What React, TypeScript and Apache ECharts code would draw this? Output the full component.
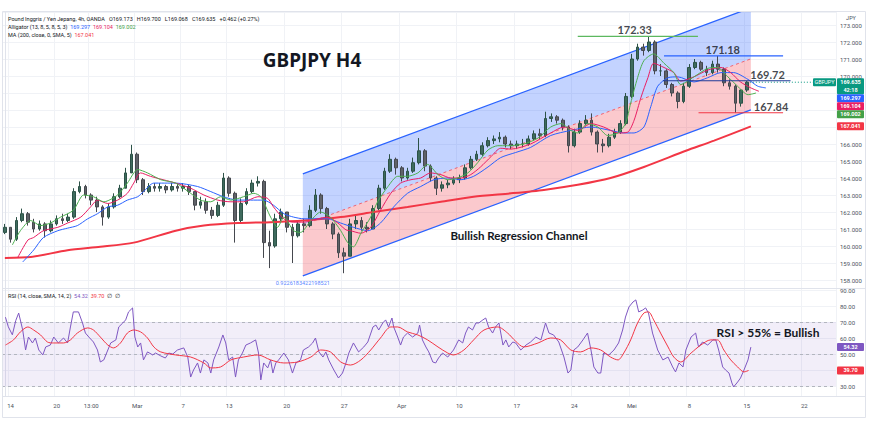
import React, { useEffect, useRef } from 'react';
import * as echarts from 'echarts';

const N_CAT = 145;
const X_TICKS: [number, string][] = [
  [1, '14'], [9, '20'], [15, '13:00'], [23, 'Mar'], [31, '7'], [39, '13'], [49, '20'], [59, '27'],
  [69, 'Apr'], [79, '10'], [89, '17'], [99, '24'], [109, 'Mei'], [119, '8'], [129, '15'], [139, '22'],
];

const OPEN_FIRST = 160.8;
const CLOSE = [
  161.1, 160.4, 161.5, 161.9, 161.4, 161.0, 161.3, 160.9, 161.3, 161.6,
  161.5, 161.7, 163.2, 163.5, 163.0, 162.7, 162.3, 161.7, 162.3, 162.9,
  163.4, 164.3, 165.4, 163.9, 163.2, 163.5, 163.4, 163.5, 163.3, 163.5,
  163.4, 163.5, 163.2, 162.4, 162.6, 162.1, 161.8, 162.4, 164.0, 163.1,
  161.5, 162.5, 163.2, 163.7, 163.8, 160.2, 160.0, 161.6, 162.0, 161.1,
  160.6, 161.3, 161.2, 162.1, 163.0, 162.2, 161.3, 160.7, 159.6, 159.4,
  161.3, 161.5, 161.1, 161.0, 162.2, 163.4, 164.4, 165.1, 164.6, 164.0,
  164.4, 164.9, 165.6, 164.7, 164.0, 163.4, 163.6, 163.7, 163.9, 164.0,
  164.6, 165.1, 165.4, 165.9, 166.2, 166.3, 166.4, 166.0, 165.9, 166.0,
  166.0, 166.3, 166.6, 166.5, 167.5, 167.6, 167.4, 167.0, 165.9, 166.7,
  167.2, 167.4, 166.7, 166.0, 165.9, 166.4, 166.7, 167.2, 168.8, 171.0,
  171.7, 171.5, 172.0, 170.3, 170.3, 169.5, 169.0, 168.5, 169.4, 170.5,
  170.8, 170.4, 170.2, 170.7, 170.4, 169.6, 169.4, 168.4, 169.173, 169.635,
];
const HIGH = [
  161.3, 161.1, 161.7, 162.2, 162.0, 161.6, 161.5, 161.4, 161.5, 161.8,
  161.9, 161.9, 163.4, 163.8, 163.6, 163.1, 162.9, 162.4, 162.5, 163.1,
  163.6, 164.6, 165.95, 165.5, 164.0, 163.7, 163.7, 163.7, 163.6, 163.7,
  163.7, 163.7, 163.6, 163.2, 162.9, 162.8, 162.3, 162.6, 164.3, 164.1,
  163.2, 162.8, 163.4, 163.9, 164.1, 163.9, 160.9, 161.9, 162.2, 162.0,
  161.3, 161.5, 161.6, 162.4, 163.35, 163.1, 162.3, 161.4, 160.8, 159.9,
  161.6, 161.8, 161.7, 161.4, 162.4, 163.6, 164.6, 165.4, 165.2, 164.7,
  164.6, 165.2, 166.35, 165.7, 164.8, 164.1, 163.8, 163.9, 164.1, 164.2,
  164.8, 165.3, 165.6, 166.1, 166.4, 166.5, 166.7, 166.5, 166.2, 166.2,
  166.3, 166.5, 166.8, 166.9, 167.9, 167.8, 167.7, 167.5, 167.1, 166.9,
  167.4, 167.7, 167.8, 166.8, 166.3, 166.6, 166.9, 167.4, 169.0, 171.3,
  171.9, 171.9, 172.33, 172.1, 170.7, 170.4, 169.6, 169.1, 169.6, 170.7,
  171.0, 170.9, 170.6, 170.9, 171.18, 170.5, 169.8, 169.5, 169.2, 169.7,
];
const LOW = [
  160.7, 160.2, 160.3, 161.4, 161.2, 160.8, 160.9, 160.5, 160.8, 161.2,
  161.3, 161.4, 161.6, 163.1, 162.8, 162.4, 162.0, 161.2, 161.6, 162.2,
  162.8, 163.4, 164.3, 163.7, 163.0, 163.1, 163.2, 163.2, 163.1, 163.2,
  163.2, 163.2, 163.0, 162.1, 162.2, 161.9, 161.6, 161.7, 162.3, 162.9,
  160.2, 161.3, 162.4, 163.1, 163.5, 159.3, 158.7, 159.9, 161.4, 160.8,
  159.0, 160.5, 160.8, 161.1, 162.0, 161.9, 161.0, 160.4, 159.3, 158.4,
  159.4, 161.0, 160.9, 160.8, 161.0, 162.1, 163.3, 164.3, 164.2, 163.8,
  163.9, 164.3, 164.8, 164.4, 163.8, 163.0, 163.2, 163.4, 163.6, 163.7,
  163.9, 164.5, 165.0, 165.3, 165.8, 166.0, 166.1, 165.8, 165.7, 165.7,
  165.8, 165.9, 166.2, 166.3, 166.4, 167.3, 167.2, 166.8, 165.5, 165.8,
  166.6, 167.1, 166.5, 165.5, 165.5, 165.8, 166.3, 166.6, 167.1, 168.7,
  170.9, 171.2, 171.4, 170.1, 170.0, 169.3, 168.8, 168.1, 168.4, 169.3,
  170.4, 170.3, 170.0, 170.1, 170.2, 169.4, 169.2, 167.84, 168.2, 169.068,
];

// indicator readings: [bar position, value]
const MA200: [number, number][] = [
  [0, 159.3], [4.5, 159.35], [10.9, 159.75], [16.6, 159.95], [22.4, 160.2], [29.7, 160.9],
  [34.6, 161.2], [40.5, 161.35], [46.2, 161.4], [52, 161.5], [58.4, 161.7], [64.1, 162.0],
  [70, 162.3], [75.8, 162.6], [81.5, 162.9], [88, 163.1], [93.7, 163.3], [99.6, 163.6],
  [105.3, 164.0], [111.1, 164.65], [118.4, 165.6], [123.3, 166.2], [129.7, 167.04],
];
const JAW: [number, number][] = [
  [3.1, 159.06], [5, 159.76], [6.7, 160.5], [9.2, 160.9], [10.9, 161.05], [12.6, 161.2], [14.4, 161.6],
  [16.1, 161.9], [17.9, 162.3], [19.6, 162.4], [21.3, 162.7], [23.1, 162.9], [24.1, 163.2], [25.9, 163.7],
  [29.7, 163.7], [33.5, 163.5], [35.8, 163.2], [38, 162.9], [40.5, 162.7], [42.7, 162.7], [45, 162.7],
  [46.7, 162.4], [48.5, 161.9], [50.2, 161.7], [52, 161.6], [54.4, 161.6], [56.1, 161.6], [58.4, 161.35],
  [60.6, 161.1], [63.1, 160.9], [65.3, 161.35], [67.6, 162.3], [70, 163.1], [72.3, 163.5], [74.6, 163.9],
  [77, 164.0], [79.3, 163.9], [81.5, 164.1], [84, 164.65], [86.2, 165.2], [88.8, 165.5], [91.4, 165.8],
  [94.9, 166.5], [98.4, 166.8], [101.9, 167.0], [105.3, 166.8], [107.6, 166.65], [109.4, 166.65],
  [111.1, 167.0], [112.3, 168.2], [113.5, 169.4], [115.3, 169.9], [117, 169.95], [119.8, 169.65],
  [122.2, 169.9], [124.5, 170.2], [126.7, 170.2], [129.2, 169.8], [130.9, 169.4], [132.3, 169.3],
];
const TEETH: [number, number][] = [
  [2.2, 159.3], [4, 160.35], [5, 160.5], [6.7, 160.9], [9.2, 161.1], [10.9, 161.35], [13.2, 161.7],
  [14.9, 162.3], [16.1, 162.7], [17.9, 162.5], [19.6, 162.7], [21.3, 163.1], [22.4, 163.7], [23.6, 164.3],
  [25.3, 164.1], [29.7, 163.7], [32.3, 163.4], [34.6, 163.0], [37, 162.7], [39.3, 162.6], [41.5, 162.6],
  [44, 162.9], [45.7, 162.8], [46.7, 162.3], [48.5, 161.6], [50.2, 161.4], [52, 161.4], [54.4, 161.6],
  [56.1, 161.7], [57.9, 161.35], [59.3, 160.95], [60.1, 160.9], [61.9, 160.75], [63.6, 161.1],
  [65.3, 162.1], [67.1, 163.1], [68.8, 163.7], [70.6, 163.9], [72.3, 164.0], [74, 164.3], [75.8, 164.2],
  [77.5, 164.0], [79.3, 164.0], [81, 164.2], [82.7, 164.65], [84.5, 165.25], [86.2, 165.75], [88, 165.7],
  [91.4, 166.0], [94.9, 166.65], [97.2, 167.0], [99.6, 166.8], [101.9, 167.2], [104.1, 167.0],
  [106.6, 166.65], [108.3, 166.7], [109.4, 167.4], [110.6, 168.75], [111.8, 169.9], [112.8, 170.75],
  [114.6, 170.5], [116.3, 170.2], [117.5, 169.7], [119.8, 169.95], [122.2, 170.35], [124.5, 170.5],
  [126.2, 170.2], [127.9, 169.65], [129.7, 169.3], [131.1, 169.1],
];
const LIPS: [number, number][] = [
  [1.3, 160.06], [2.7, 160.9], [4.5, 161.5], [6.2, 161.2], [7.9, 161.35], [9.7, 161.7], [11.9, 162.1],
  [13.7, 163.0], [15.4, 162.9], [17.2, 162.6], [19.6, 163.0], [21.3, 163.7], [23.1, 164.5], [24.8, 164.3],
  [27.1, 163.9], [29.7, 163.7], [32.3, 163.1], [34, 162.7], [35.8, 162.6], [37.5, 162.9], [39.3, 162.7],
  [41.5, 162.9], [43.3, 163.1], [44.5, 162.9], [46.2, 161.7], [47.4, 161.1], [48.5, 161.7], [50.2, 160.9],
  [51.4, 160.8], [53.2, 161.5], [54.9, 162.0], [56.6, 161.7], [58.4, 160.9], [59.6, 160.2], [60.6, 159.95],
  [61.9, 160.75], [63.6, 161.7], [64.8, 162.6], [66.6, 163.5], [68.3, 164.1], [70, 164.1], [71.8, 164.3],
  [73.5, 164.8], [75.3, 164.2], [77, 163.9], [78.7, 164.0], [80.5, 164.3], [82.2, 164.9], [84, 165.65],
  [85.7, 165.9], [87.4, 165.9], [90.2, 166.0], [92.7, 166.35], [94.9, 167.0], [96.7, 167.2], [98.4, 166.8],
  [99.6, 166.65], [101.3, 167.2], [103.1, 167.0], [104.8, 166.5], [106.6, 166.65], [107.9, 167.2],
  [108.8, 168.4], [110, 169.9], [111.1, 170.9], [112.8, 171.3], [114.6, 170.75], [116.3, 170.2],
  [117.5, 169.5], [119.8, 169.95], [122.2, 170.45], [123.9, 170.5], [125.7, 169.95], [127.4, 169.4],
  [129.2, 168.9], [130.6, 169.0],
];
const RSI: [number, number][] = [
  [0.1, 73], [0.6, 67], [1.3, 62], [1.9, 71], [2.4, 75.6], [3.1, 65], [3.6, 52.5], [4.1, 60.6], [4.8, 56.9],
  [5.3, 60], [5.9, 52.5], [6.6, 49.4], [7.1, 54.4], [7.9, 55.6], [8.5, 60.6], [9.3, 56.9], [10.2, 60],
  [10.9, 56.9], [11.4, 66.9], [11.9, 76.3], [12.8, 76.3], [13.5, 69.4], [14, 63.1], [14.6, 60.6], [15.4, 57.5],
  [16.1, 52.5], [16.6, 45], [17.2, 46.3], [17.9, 52.5], [18.4, 56.9], [19.3, 58.8], [19.8, 66.9], [20.5, 69.4],
  [21, 71.3], [21.5, 76.3], [22.2, 78.8], [22.6, 60.6], [23.1, 54.4], [23.6, 56.9], [24.1, 46.3], [24.8, 51.3],
  [25.7, 49.4], [26.2, 50.6], [27.1, 48.8], [27.9, 47.5], [28.5, 50.6], [29.2, 50], [30, 52.5], [31.1, 53.8],
  [31.8, 48.1], [32.3, 35.6], [32.8, 40], [33.5, 44.4], [34, 38.1], [34.6, 46.3], [35.3, 44.4], [35.8, 38.1],
  [36.3, 46.3], [37.2, 54.4], [37.9, 61.9], [38.4, 56.9], [38.9, 46.3], [39.6, 48.1], [40.1, 35.6], [40.6, 46.3],
  [41.3, 50.6], [41.9, 55.6], [42.7, 56.9], [43.6, 58.8], [44.1, 50.6], [44.5, 33.8], [45, 44.4], [45.7, 41.3],
  [46.2, 46.3], [46.6, 38.1], [47.1, 44.4], [47.6, 46.3], [48.5, 50.6], [49.3, 46.3], [50, 38.1], [50.6, 44.4],
  [51.4, 46.3], [51.9, 52.5], [52.8, 54.4], [53.5, 56.9], [54, 60], [54.6, 51.3], [55.3, 48.1], [55.8, 51.3],
  [56.3, 46.3], [57.2, 40], [58, 35], [58.7, 38.1], [59.3, 44.4], [59.8, 50.6], [60.6, 56.9], [61.5, 51.3],
  [62.4, 54.4], [63.1, 57.5], [64, 66.9], [64.5, 68.1], [65, 65], [65.7, 69.4], [66.2, 71.3], [66.7, 66.9],
  [67.3, 72.5], [67.6, 66.9], [68.3, 60.6], [68.8, 55.6], [69.3, 60.6], [70, 63.1], [70.9, 60.6], [71.8, 63.1],
  [72.1, 68.1], [72.6, 58.8], [73.2, 54.4], [73.7, 51.3], [74.4, 45], [74.9, 44.4], [75.4, 47.5], [76.1, 50.6],
  [77, 48.1], [78, 52.5], [78.9, 58.8], [79.6, 56.9], [80.1, 63.1], [80.6, 66.9], [81.3, 65], [81.9, 69.4],
  [82.4, 69.4], [83.1, 71.3], [83.6, 72.5], [84.1, 66.9], [84.8, 63.1], [85.3, 66.9], [85.9, 69.4], [86.6, 55.6],
  [87.1, 58.8], [87.6, 54.4], [88.3, 57.5], [88.8, 56.9], [89.7, 52.5], [90.6, 55.6], [91.4, 57.5], [92.3, 60.6],
  [93.2, 58.8], [94, 69.4], [94.6, 63.1], [95.4, 61.9], [96.3, 57.5], [97.2, 48.1], [97.9, 38.1], [98.4, 40],
  [98.9, 52.5], [99.6, 54.4], [100.5, 58.8], [101.3, 63.1], [101.9, 52.5], [102.4, 41.9], [103.1, 38.1],
  [103.6, 38.1], [104.1, 50.6], [105, 49.4], [105.9, 52.5], [106.7, 56.9], [107.4, 65], [107.9, 73.1],
  [108.5, 79.4], [109.2, 82.5], [109.7, 83.8], [110.2, 76.3], [110.9, 77.5], [111.4, 78.8], [111.9, 75.6],
  [112.6, 63.1], [113.5, 52.5], [114.4, 46.3], [115.3, 48.1], [116.1, 41.9], [116.6, 38.8], [117.2, 44.4],
  [117.9, 41.9], [118.4, 52.5], [119.3, 60.6], [120.1, 63.1], [120.6, 54.4], [121.3, 57.5], [122.2, 55.6],
  [123.1, 58.8], [123.6, 58.8], [124.1, 52.5], [124.8, 41.9], [125.3, 40], [125.9, 38.1], [126.4, 31.9],
  [126.7, 29.4], [127.4, 32.5], [127.9, 35], [128.5, 40], [129.2, 46.3], [129.7, 54.32],
];
const RSI_MA: [number, number][] = [
  [0.1, 55.6], [1.5, 58.8], [2.7, 63.8], [4, 66.9], [5, 65], [6.2, 61.9], [7.4, 57.5], [8.5, 56.9],
  [10.2, 56.9], [11.4, 58.8], [12.6, 63.1], [14.4, 66.3], [15.4, 65], [16.6, 60.6], [17.9, 55.6],
  [18.9, 53.8], [20.1, 56.9], [21.3, 63.1], [22.4, 65], [23.6, 63.8], [24.8, 60], [25.9, 54.4], [27.1, 51.3],
  [29.7, 49.4], [32.3, 48.1], [34.6, 44.4], [35.8, 41.3], [37.5, 41.9], [39.3, 46.3], [41.5, 48.1], [44, 49.4],
  [46.2, 46.3], [48.5, 44.4], [50.9, 45], [53.2, 48.1], [54.9, 52.5], [56.6, 51.3], [58.4, 45], [60.1, 43.1],
  [61.9, 46.3], [63.6, 52.5], [65.3, 60], [67.1, 66.9], [68.3, 66.9], [70, 63.8], [71.8, 61.9], [73.5, 58.8],
  [75.3, 54.4], [77, 50.6], [78, 49.4], [79.8, 52.5], [81.5, 58.8], [83.3, 65], [85.7, 66.9], [87.4, 63.1],
  [88.8, 58], [90.2, 54.4], [92.7, 56.9], [94.9, 60], [96.6, 58.8], [98.4, 52.5], [100.1, 51.3], [101.9, 53.8],
  [103.6, 52.5], [105.3, 48.1], [106.6, 46.3], [107.6, 50.6], [108.8, 58.8], [110, 69.4], [111.1, 75.6],
  [111.9, 76.3], [112.8, 71.3], [114, 63.1], [115.3, 54.4], [116.3, 48.1], [117.5, 45], [119.3, 50.6],
  [121, 55.6], [122.7, 58.8], [123.9, 58.8], [125, 52.5], [126.2, 46.3], [127.4, 41.9], [128.5, 38.8], [129.3, 39.7],
];

const CHANNEL_T = [51.8, 129.7];
const CHANNEL_LOWER = [158.24, 168.01];
const CHANNEL_UPPER = [164.24, 174.01];
const CHANNEL_R = '0.9226183422198521';

const LEVELS = [
  { label: '172.33', value: 172.33, from: 99.6, to: 120.5, labelAt: 109.5, color: '#5cb85f' },
  { label: '171.18', value: 171.18, from: 114.6, to: 135.3, labelAt: 124.8, color: '#2962ff' },
  { label: '169.72', value: 169.72, from: 114.4, to: 136.6, labelAt: 132.6, color: '#1f3b99' },
  { label: '167.84', value: 167.84, from: 120.6, to: 135.3, labelAt: 133.2, color: '#f23645' },
];

const LAST_PRICE = 169.635;
const PRICE_TAGS = [
  { value: 169.635, lines: ['169.635', '42:18'], color: '#089981', symbol: 'GBPJPY' },
  { value: 169.297, lines: ['169.297'], color: '#2962ff' },
  { value: 169.104, lines: ['169.104'], color: '#e91e63' },
  { value: 169.002, lines: ['169.002'], color: '#43a047' },
  { value: 167.041, lines: ['167.041'], color: '#f23645' },
];
const RSI_TAGS = [
  { value: 54.32, lines: ['54.32'], color: '#7e57c2' },
  { value: 39.7, lines: ['39.70'], color: '#f23645' },
];

const FONT = 'Roboto';
const GRID_LEFT = 2;
const GRID_RIGHT_EDGE = 836;

function buildOption(): any {
  const cats: string[] = [];
  for (let i = 0; i < N_CAT; i++) cats.push('');
  X_TICKS.forEach(([i, s]) => { cats[i] = s; });
  const showTick = (_idx: number, val: string) => val !== '';
  const candles = CLOSE.map((c, i) => [i === 0 ? OPEN_FIRST : CLOSE[i - 1], c, LOW[i], HIGH[i]]);

  const lineS = (data: [number, number][], color: string, width: number, z: number, xi = 1, yi = 0, smooth: any = 0.25) => ({
    type: 'line', data, xAxisIndex: xi, yAxisIndex: yi, symbol: 'none', smooth,
    lineStyle: { color, width }, z, silent: true,
  });

  const axisLabelY = { color: '#4c525e', fontSize: 6, fontFamily: FONT, margin: 4, showMinLabel: false, showMaxLabel: false };
  const split = { show: true, lineStyle: { color: '#f0f2f6', width: 1 } };

  return {
    animation: false,
    backgroundColor: '#ffffff',
    grid: [
      { left: GRID_LEFT, right: 870 - GRID_RIGHT_EDGE, top: 12, height: 276 },
      { left: GRID_LEFT, right: 870 - GRID_RIGHT_EDGE, top: 288, height: 108 },
    ],
    xAxis: [
      { type: 'category', gridIndex: 0, data: cats, boundaryGap: true, axisLine: { show: false }, axisTick: { show: false },
        axisLabel: { show: false }, splitLine: { ...split, interval: showTick } },
      { type: 'value', gridIndex: 0, min: -0.5, max: N_CAT - 0.5, show: false },
      { type: 'category', gridIndex: 1, data: cats, boundaryGap: true, axisLine: { show: false }, axisTick: { show: false },
        axisLabel: { interval: showTick, color: '#4c525e', fontSize: 6, fontFamily: FONT, margin: 6 },
        splitLine: { ...split, interval: showTick } },
      { type: 'value', gridIndex: 1, min: -0.5, max: N_CAT - 0.5, show: false },
    ],
    yAxis: [
      { type: 'value', gridIndex: 0, position: 'right', min: 157.53, max: 173.765, splitNumber: 16, scale: true,
        axisLine: { show: true, lineStyle: { color: '#e0e3eb' } }, axisTick: { show: false },
        axisLabel: { ...axisLabelY, formatter: (v: number) => v.toFixed(3) }, splitLine: split },
      { type: 'value', gridIndex: 1, position: 'right', min: 23.75, max: 91.25, splitNumber: 7,
        axisLine: { show: true, lineStyle: { color: '#e0e3eb' } }, axisTick: { show: false },
        axisLabel: { ...axisLabelY, formatter: (v: number) => v.toFixed(2) }, splitLine: split },
    ],
    series: [
      {
        type: 'custom', xAxisIndex: 1, yAxisIndex: 0, clip: true, z: 1, silent: true,
        data: [[CHANNEL_T[0], CHANNEL_LOWER[0], CHANNEL_UPPER[0], CHANNEL_T[1], CHANNEL_LOWER[1], CHANNEL_UPPER[1]]],
        encode: { x: [0, 3], y: [1, 2, 4, 5] },
        renderItem: (_params: any, api: any) => {
          const t0 = api.value(0), l0 = api.value(1), u0 = api.value(2);
          const t1 = api.value(3), l1 = api.value(4), u1 = api.value(5);
          const m0 = (l0 + u0) / 2, m1 = (l1 + u1) / 2;
          const L0 = api.coord([t0, l0]), L1 = api.coord([t1, l1]);
          const U0 = api.coord([t0, u0]), U1 = api.coord([t1, u1]);
          const M0 = api.coord([t0, m0]), M1 = api.coord([t1, m1]);
          return {
            type: 'group',
            children: [
              { type: 'polygon', shape: { points: [L0, L1, M1, M0] }, style: { fill: 'rgba(242,54,69,0.27)' } },
              { type: 'polygon', shape: { points: [M0, M1, U1, U0] }, style: { fill: 'rgba(41,98,255,0.28)' } },
              { type: 'line', shape: { x1: M0[0], y1: M0[1], x2: M1[0], y2: M1[1] },
                style: { stroke: 'rgba(242,54,69,0.7)', lineWidth: 1, lineDash: [3, 3] } },
              { type: 'line', shape: { x1: L0[0], y1: L0[1], x2: L1[0], y2: L1[1] }, style: { stroke: '#2962ff', lineWidth: 1.3 } },
              { type: 'line', shape: { x1: U0[0], y1: U0[1], x2: U1[0], y2: U1[1] }, style: { stroke: '#2962ff', lineWidth: 1.3 } },
            ],
          };
        },
      },
      {
        type: 'candlestick', xAxisIndex: 0, yAxisIndex: 0, data: candles, barWidth: '55%', z: 3, silent: true,
        itemStyle: { color: '#3f6b5e', color0: '#5f6268', borderColor: '#2c5247', borderColor0: '#45484e', borderWidth: 1 },
      },
      lineS(MA200, '#f23645', 2, 4),
      lineS(JAW, '#2962ff', 1, 5),
      lineS(TEETH, '#e91e63', 1, 5),
      lineS(LIPS, '#4caf50', 1, 5),
      ...LEVELS.map((lv) => ({
        type: 'line', xAxisIndex: 1, yAxisIndex: 0, symbol: 'none', z: 6, silent: true,
        data: [[lv.from, lv.value], [lv.to, lv.value]], lineStyle: { color: lv.color, width: 1.2 },
      })),
      {
        type: 'line', xAxisIndex: 1, yAxisIndex: 0, symbol: 'none', z: 2, silent: true,
        data: [[CLOSE.length - 1, LAST_PRICE], [N_CAT - 0.5, LAST_PRICE]],
        lineStyle: { color: '#089981', width: 1, type: [1, 2] },
      },
      {
        type: 'scatter', xAxisIndex: 1, yAxisIndex: 0, symbolSize: 0, z: 7, silent: true,
        data: LEVELS.map((lv) => ({ value: [lv.labelAt, lv.value], label: { formatter: lv.label } })),
        label: { show: true, position: 'top', distance: 1, color: '#131722', fontSize: 11, fontWeight: 'bold', fontFamily: 'Lato' },
      },
      {
        type: 'scatter', xAxisIndex: 1, yAxisIndex: 0, symbolSize: 0, z: 7, silent: true,
        data: [{ value: [CHANNEL_T[0], CHANNEL_LOWER[0]], label: { formatter: CHANNEL_R } }],
        label: { show: true, position: 'bottom', distance: 4, color: '#2962ff', fontSize: 5.5, fontFamily: FONT },
      },
      {
        ...lineS(RSI, '#7e57c2', 1, 5, 3, 1, false),
        markArea: { silent: true, itemStyle: { color: 'rgba(126,87,194,0.1)' }, data: [[{ yAxis: 30 }, { yAxis: 70 }]] },
        markLine: {
          silent: true, symbol: 'none', label: { show: false },
          lineStyle: { color: '#b2b5be', type: [3, 3], width: 1 },
          data: [{ yAxis: 70 }, { yAxis: 50 }, { yAxis: 30 }],
        },
      },
      lineS(RSI_MA, '#f23645', 1, 5, 3, 1, 0.3),
    ],
  };
}

function staticGraphics(): any[] {
  const txt = (text: string, x: number, y: number, extra: any = {}) => ({
    type: 'text', silent: true, z: 50,
    style: { text, x, y, fill: '#131722', fontSize: 5.5, fontFamily: FONT, verticalAlign: 'middle', ...extra },
  });
  const small = { fontSize: 5.5, fontFamily: FONT };
  return [
    { type: 'rect', silent: true, z: 40, shape: { x: 2.5, y: 11.5, width: 863, height: 406 }, style: { fill: 'none', stroke: '#e0e3eb', lineWidth: 1 } },
    { type: 'line', silent: true, z: 40, shape: { x1: 2, y1: 288.5, x2: 866, y2: 288.5 }, style: { stroke: '#e0e3eb', lineWidth: 1 } },
    { type: 'line', silent: true, z: 40, shape: { x1: 2, y1: 396.5, x2: 866, y2: 396.5 }, style: { stroke: '#e0e3eb', lineWidth: 1 } },
    txt('', 8, 19, {
      text: '{a|Pound Inggris / Yen Jepang, 4h, OANDA   O169.173   H169.700   L169.068   C169.635   +0.462 (+0.27%)}',
      rich: { a: { ...small, fill: '#131722' } },
    }),
    txt('', 8, 27, {
      text: '{a|Alligator (13, 8, 5, 8, 5, 3)}  {b|169.297}  {c|169.104}  {d|169.002}',
      rich: { a: { ...small, fill: '#131722' }, b: { ...small, fill: '#2962ff' }, c: { ...small, fill: '#e91e63' }, d: { ...small, fill: '#43a047' } },
    }),
    txt('', 8, 35, {
      text: '{a|MA (200, close, 0, SMA, 5)}  {b|167.041}',
      rich: { a: { ...small, fill: '#131722' }, b: { ...small, fill: '#f23645' } },
    }),
    txt('', 8, 296, {
      text: '{a|RSI (14, close, SMA, 14, 2)}  {b|54.32}  {c|39.70}  {d|∅  ∅}',
      rich: { a: { ...small, fill: '#131722' }, b: { ...small, fill: '#7e57c2' }, c: { ...small, fill: '#f23645' }, d: { ...small, fill: '#131722' } },
    }),
    txt('JPY', 851, 18, { align: 'center', fill: '#4c525e' }),
    txt('GBPJPY H4', 312, 60, { align: 'center', fontSize: 19, fontWeight: 'bold', fontFamily: 'Noto Sans' }),
    txt('Bullish Regression Channel', 519, 235, { align: 'center', fontSize: 11.5, fontWeight: 'bold', fontFamily: 'Lato' }),
    txt('RSI > 55% = Bullish', 768, 332, { align: 'center', fontSize: 12, fontWeight: 'bold', fontFamily: 'Lato' }),
  ];
}

// lays out the right-axis value tags (stacked like TradingView) and returns
// the graphic elements plus the pixel bands they cover on each axis
function tagLayout(chart: any) {
  const els: any[] = [];
  const bands: [number, number][][] = [[], []];
  const place = (tags: any[], axis: number) => {
    const sorted = [...tags].sort((a, b) => b.value - a.value);
    let bottom = -Infinity;
    sorted.forEach((tag) => {
      const y = chart.convertToPixel({ yAxisIndex: axis }, tag.value);
      const h = 8 * tag.lines.length;
      const top = Math.max(y - 4, bottom);
      bottom = top + h;
      bands[axis].push([top, bottom]);
      els.push({ type: 'rect', silent: true, z: 60, shape: { x: 837, y: top, width: 27, height: h, r: 1 }, style: { fill: tag.color } });
      els.push({
        type: 'text', silent: true, z: 61,
        style: { text: tag.lines.join('\n'), x: 850.5, y: top + h / 2, align: 'center', verticalAlign: 'middle', fill: '#ffffff',
          fontSize: 5.5, fontFamily: FONT, fontWeight: 'bold', lineHeight: 8 },
      });
      if (tag.symbol) {
        els.push({ type: 'rect', silent: true, z: 60, shape: { x: 813, y: top, width: 23, height: 8, r: 1 }, style: { fill: tag.color } });
        els.push({
          type: 'text', silent: true, z: 61,
          style: { text: tag.symbol, x: 824.5, y: top + 4, align: 'center', verticalAlign: 'middle', fill: '#ffffff', fontSize: 5.5, fontFamily: FONT },
        });
      }
    });
  };
  place(PRICE_TAGS, 0);
  place(RSI_TAGS, 1);
  return { els, bands };
}

export default function App() {
  const ref = useRef<HTMLDivElement>(null);
  useEffect(() => {
    const el = ref.current;
    if (!el) return;
    const chart = echarts.init(el, undefined, { renderer: 'svg', width: 870, height: 426 });
    chart.setOption(buildOption());
    const { els, bands } = tagLayout(chart);
    // axis labels hidden under a tag (as in TradingView, where the tag covers them)
    const covered = (axis: number, v: number) => {
      const y = chart.convertToPixel({ yAxisIndex: axis }, v);
      return bands[axis].some(([a, b]) => y > a - 2 && y < b + 2);
    };
    chart.setOption({
      yAxis: [
        { axisLabel: { formatter: (v: number) => (covered(0, v) ? '' : v.toFixed(3)) } },
        { axisLabel: { formatter: (v: number) => (covered(1, v) ? '' : v.toFixed(2)) } },
      ],
      graphic: { elements: [...staticGraphics(), ...els] },
    });
    return () => chart.dispose();
  }, []);
  return (
    <div
      ref={ref}
      style={{ position: 'fixed', left: 0, top: 0, width: 870, height: 426, background: '#ffffff' }}
    />
  );
}
